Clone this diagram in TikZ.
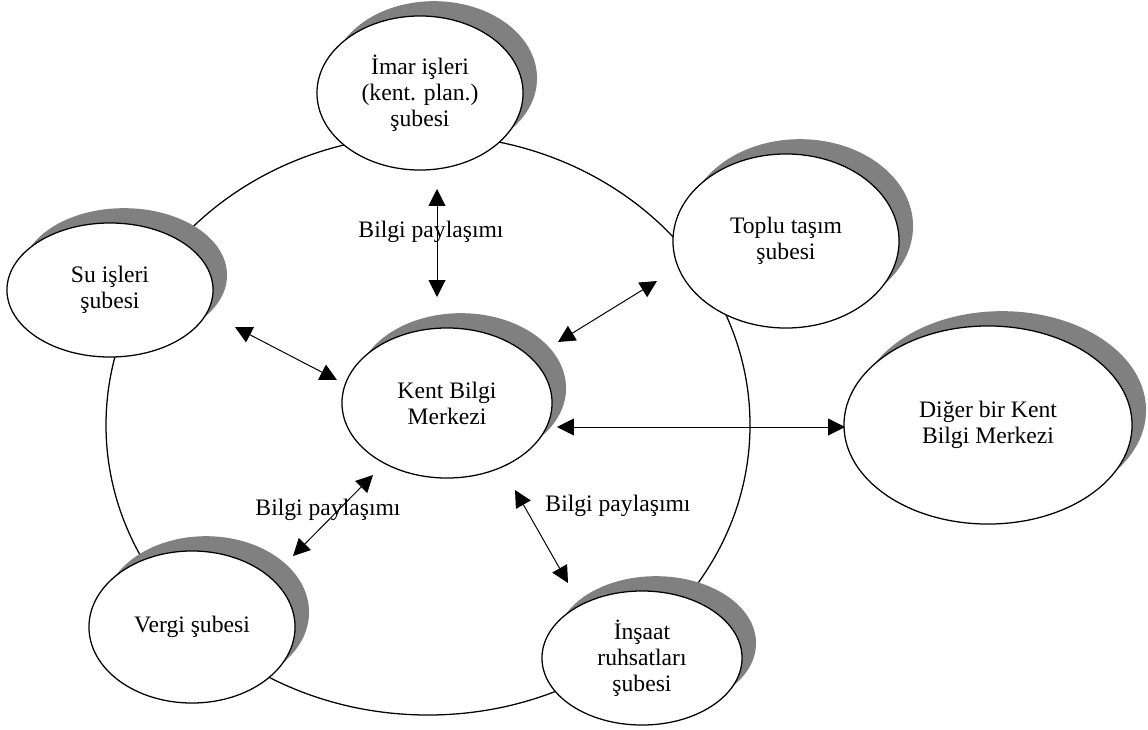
\documentclass[tikz,border=0pt]{standalone}
\usepackage{fontspec}
\setmainfont{Liberation Serif}
\usetikzlibrary{shapes.geometric,shadows,arrows.meta}

\tikzset{
  oval/.style 2 args={minimum width=#1*0.05cm, minimum height=#2*0.05cm},
  office/.style={ellipse, draw, line width=0.9pt, fill=white, inner sep=0pt, align=center,
    font=\fontsize{16.8}{18.6}\selectfont,
    drop shadow={shadow xshift=0.35cm, shadow yshift=0.37cm, fill=black!50, opacity=1}},
  link/.style={line width=0.7pt, {Triangle[length=12pt,width=12pt]}-{Triangle[length=12pt,width=12pt]}},
  note/.style={font=\fontsize{16.8}{18.6}\selectfont}
}

\begin{document}
\begin{tikzpicture}[x=0.025cm,y=-0.025cm]
\useasboundingbox (0,0) rectangle (1148,729);
\draw[line width=0.9pt] (428,425) ellipse [x radius=322, y radius=290];

\node[office, oval={103}{77}] (imar) at (420,93) {İmar işleri\\(kent. plan.)\\şubesi};
\node[office, oval={113}{87}] (toplu) at (786,241) {Toplu taşım\\şubesi};
\node[office, oval={103}{67}] (su) at (110,290) {Su işleri\\şubesi};
\node[office, oval={105}{75}] (kent) at (447,403) {Kent Bilgi\\Merkezi};
\node[office, oval={144}{99}] (diger) at (988,425) {Diğer bir Kent\\Bilgi Merkezi};
\node[office, oval={103}{76}] (vergi) at (192,627) {Vergi şubesi};
\node[office, oval={100}{67}] (insaat) at (642,658) {İnşaat\\ruhsatları\\şubesi};

\foreach \n/\x/\y in {b1/431/232, b2/328/510, b3/618/506}{
  \node[note] (\n) at (\x,\y) {Bilgi paylaşımı};
}

\coordinate (imar-k) at (437,189);
\coordinate (k-imar) at (437,297);
\coordinate (su-k) at (235,327);
\coordinate (k-su) at (337,380);
\coordinate (toplu-k) at (657,281);
\coordinate (k-toplu) at (558,342);
\coordinate (k-diger) at (557,427);
\coordinate (diger-k) at (845,427);
\coordinate (k-vergi) at (373,475);
\coordinate (vergi-k) at (293,556);
\coordinate (k-insaat) at (515,490);
\coordinate (insaat-k) at (568,583);

\draw[link] (imar-k) -- (k-imar);
\draw[link] (su-k) -- (k-su);
\draw[link] (k-toplu) -- (toplu-k);
\draw[link] (k-diger) -- (diger-k);
\draw[link] (k-vergi) -- (vergi-k);
\draw[link] (k-insaat) -- (insaat-k);
\end{tikzpicture}
\end{document}
